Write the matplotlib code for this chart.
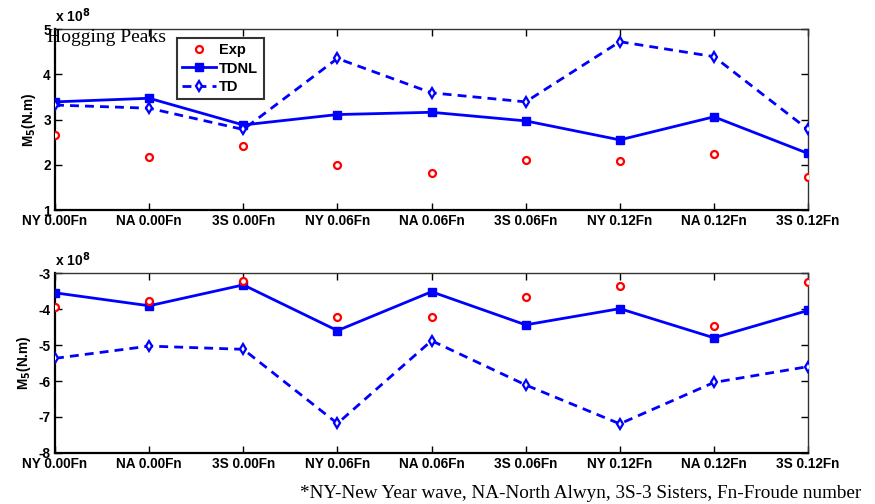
import numpy as np
import matplotlib
matplotlib.use('Agg')
import matplotlib.pyplot as plt

# Data (values in units of 1e8 N.m)
cases = ['NY 0.00Fn', 'NA 0.00Fn', '3S 0.00Fn', 'NY 0.06Fn', 'NA 0.06Fn',
         '3S 0.06Fn', 'NY 0.12Fn', 'NA 0.12Fn', '3S 0.12Fn']

hog_exp = [2.66, 2.17, 2.42, 2.00, 1.81, 2.10, 2.09, 2.24, 1.74]
hog_tdnl = [3.39, 3.47, 2.88, 3.11, 3.16, 2.97, 2.55, 3.06, 2.25]
hog_td = [3.32, 3.25, 2.78, 4.35, 3.59, 3.39, 4.72, 4.39, 2.78]

sag_exp = [-3.94, -3.77, -3.21, -4.21, -4.23, -3.68, -3.35, -4.46, -3.24]
sag_tdnl = [-3.55, -3.91, -3.33, -4.60, -3.52, -4.44, -3.99, -4.80, -4.04]
sag_td = [-5.37, -5.03, -5.12, -7.18, -4.88, -6.11, -7.19, -6.04, -5.60]

BLUE = '#0000ff'
RED = '#ff0000'
TICK_FONT = dict(family='Liberation Sans', weight='bold', size=9.8)

fig = plt.figure(figsize=(8.75, 5.04), dpi=100)
ax_top = fig.add_axes([0.0629, 0.5833, 0.8606, 0.3591])
ax_bot = fig.add_axes([0.0629, 0.1012, 0.8606, 0.3571])

x = np.arange(1, len(cases) + 1)


def draw_panel(ax, exp, tdnl, td, ylim, yticks, legend=False):
    ax.plot(x, exp, 'o', color=RED, mfc='white', mec=RED, ms=5, mew=1.6,
            linestyle='none', label='Exp', zorder=4)
    ax.plot(x, tdnl, '-s', color=BLUE, lw=2.0, ms=5.5, mfc=BLUE,
            label='TDNL', zorder=3)
    ax.plot(x, td, '--d', color=BLUE, lw=2.0, ms=5, mfc='white', mew=1.6,
            dashes=(3.2, 2.2), label='TD', zorder=3)
    ax.set_xlim(1, len(cases))
    ax.set_ylim(*ylim)
    ax.set_xticks(x)
    ax.set_xticklabels(cases, fontdict=TICK_FONT)
    ax.set_yticks(yticks)
    ax.set_yticklabels([f'{v:g}' for v in yticks], fontdict=TICK_FONT)
    ax.tick_params(direction='in', length=5, width=1, top=True, right=True,
                   pad=3)
    for side in ['left', 'bottom']:
        ax.spines[side].set_linewidth(1.6)
    for side in ['top', 'right']:
        ax.spines[side].set_linewidth(1.0)
        ax.spines[side].set_color('#333333')
    ax.set_ylabel('M$_\\mathbf{5}$(N.m)', fontdict=dict(family='Liberation Sans',
                  weight='bold', size=9.8), labelpad=4)
    ax.text(0.0, 1.02, 'x 10$^{\\mathbf{8}}$', transform=ax.transAxes,
            family='Liberation Sans', weight='bold', size=10,
            ha='left', va='bottom')
    if legend:
        leg = ax.legend(loc='upper left', bbox_to_anchor=(0.162, 0.95),
                        prop=dict(family='Liberation Sans', weight='bold', size=10.5),
                        frameon=True, fancybox=False, handlelength=2.3,
                        borderpad=0.35, labelspacing=0.3, handletextpad=0.25,
                        borderaxespad=0)
        leg.get_frame().set_edgecolor('black')
        leg.get_frame().set_linewidth(1.5)


draw_panel(ax_top, hog_exp, hog_tdnl, hog_td, (1, 5), [1, 2, 3, 4, 5], legend=True)
draw_panel(ax_bot, sag_exp, sag_tdnl, sag_td, (-8, -3), [-8, -7, -6, -5, -4, -3])

fig.text(47 / 875, 1 - 37 / 504, 'Hogging Peaks', family='Liberation Serif',
         size=14, ha='left', va='center')
fig.text(300 / 875, 1 - 494 / 504,
         '*NY-New Year wave, NA-North Alwyn, 3S-3 Sisters, Fn-Froude number',
         family='Liberation Serif', size=13.8, ha='left', va='center')

fig.savefig('out.png', dpi=100)
